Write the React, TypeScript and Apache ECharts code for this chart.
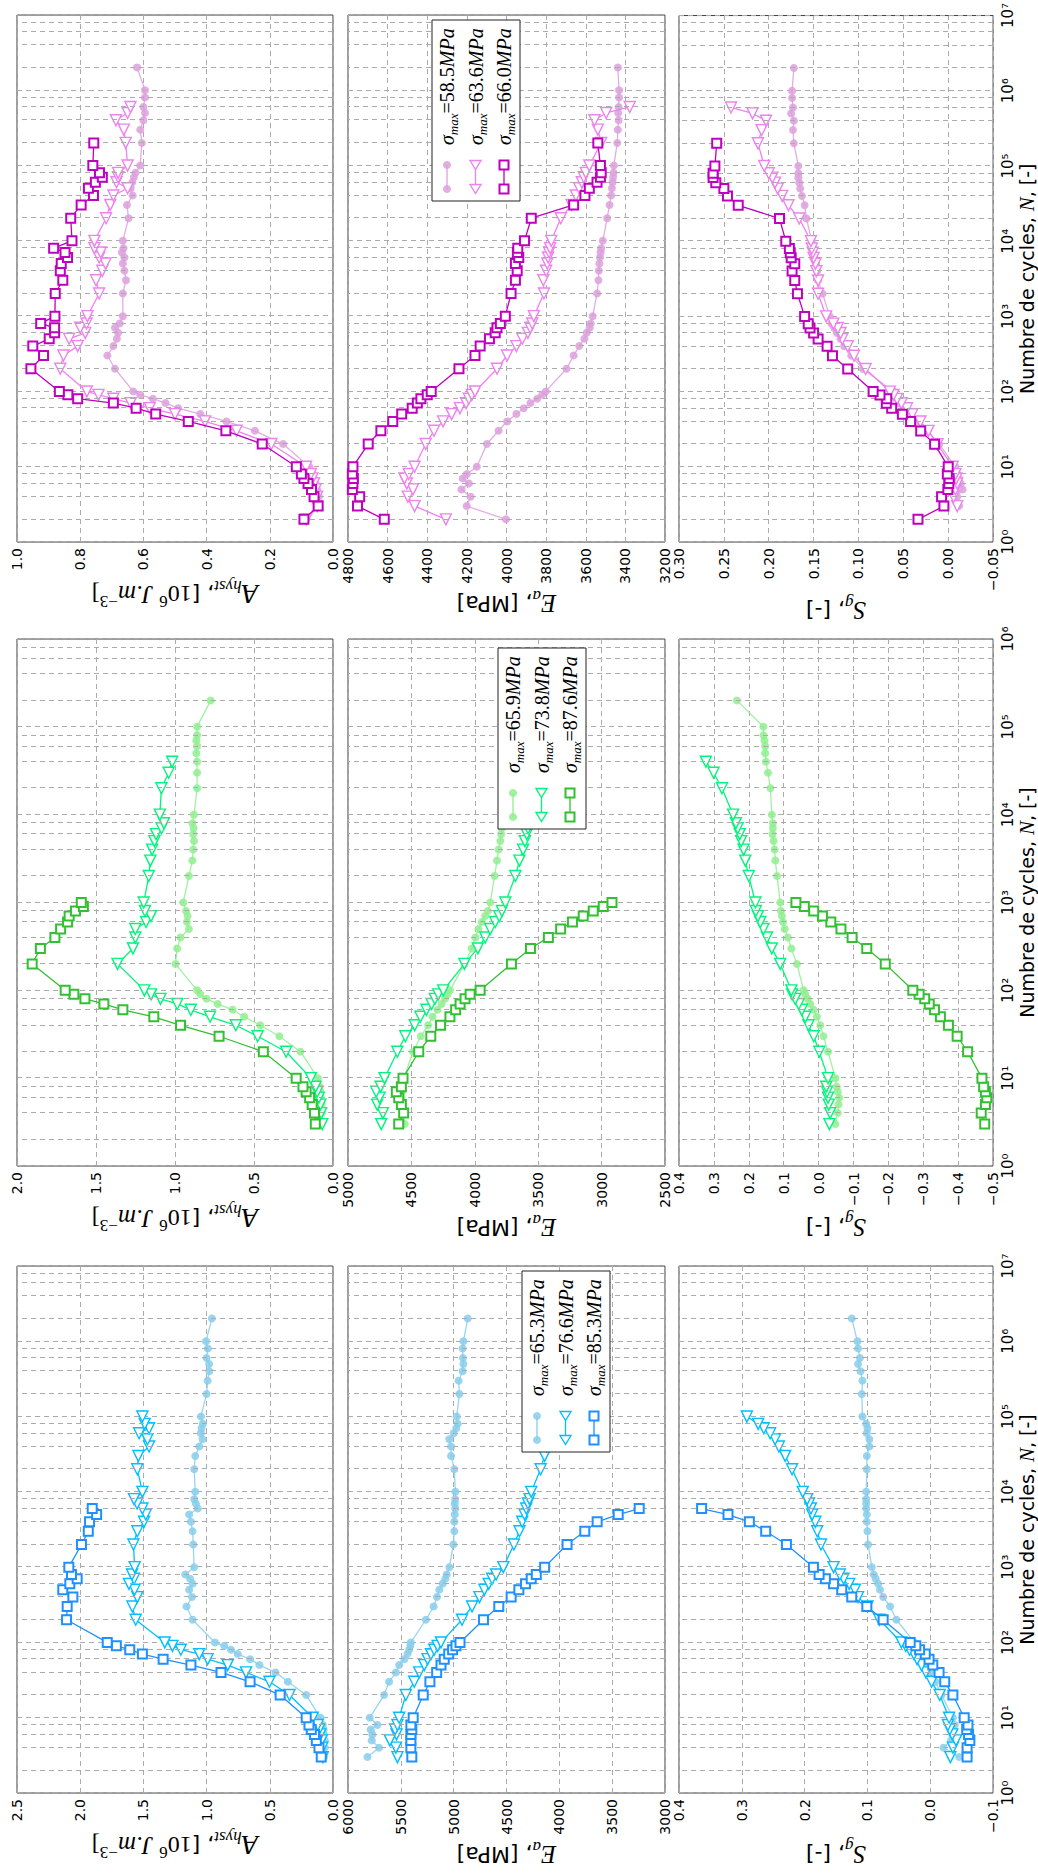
import React, { useEffect, useRef } from 'react';
import * as echarts from 'echarts';

// ---------- DATA (N = number of cycles; A = A_hyst [10^6 J/m^3]; E = E_a [MPa]; S = S_g [-]) ----------
// Magenta group
const SIG_M = ['58.5', '63.6', '66.0'];
const N_M1 = [2,3,4,5,6,7,8,10,20,30,40,50,60,70,80,90,100,200,300,400,500,600,700,800,1000,2000,3000,4000,5000,6000,7000,8000,10000,20000,30000,40000,50000,60000,70000,80000,100000,200000,300000,400000,500000,600000,800000,1000000,2000000];
const A_M1 = [0.085,0.045,0.045,0.05,0.055,0.06,0.065,0.075,0.158,0.247,0.337,0.42,0.49,0.53,0.57,0.61,0.632,0.69,0.714,0.695,0.684,0.68,0.69,0.675,0.665,0.665,0.655,0.66,0.665,0.66,0.668,0.663,0.665,0.647,0.652,0.634,0.64,0.635,0.63,0.625,0.61,0.605,0.61,0.6,0.595,0.6,0.595,0.595,0.62];
const E_M1 = [4003,4201,4181,4227,4190,4221,4200,4150,4099,4040,3997,3950,3913,3879,3845,3820,3802,3697,3661,3633,3607,3595,3580,3575,3565,3543,3536,3534,3531,3528,3525,3522,3514,3492,3480,3472,3468,3465,3462,3460,3458,3441,3438,3434,3436,3434,3432,3432,3438];
const S_M1 = [null,-0.012,-0.01,-0.016,-0.014,-0.012,-0.01,-0.008,0.01,0.023,0.034,0.042,0.05,0.054,0.057,0.059,0.061,0.095,0.108,0.116,0.12,0.124,0.127,0.13,0.132,0.14,0.145,0.146,0.147,0.149,0.15,0.151,0.152,0.158,0.16,0.163,0.165,0.166,0.167,0.167,0.167,0.172,0.173,0.172,0.175,0.173,0.174,0.174,0.172];

const N_M2 = [2,3,4,5,6,7,8,10,20,30,40,50,60,70,80,90,100,200,300,400,500,600,700,800,1000,2000,3000,4000,5000,6000,7000,8000,10000,20000,30000,40000,50000,60000,70000,80000,100000,200000,300000,400000,500000,600000];
const A_M2 = [0.085,0.05,0.05,0.055,0.06,0.065,0.07,0.085,0.195,0.305,0.405,0.5,0.58,0.64,0.695,0.742,0.779,0.863,0.853,0.808,0.835,0.784,0.8,0.78,0.777,0.74,0.75,0.73,0.72,0.74,0.735,0.755,0.755,0.718,0.705,0.695,0.65,0.685,0.68,0.68,0.65,0.656,0.662,0.687,0.65,0.641];
const E_M2 = [4306,4464,4498,4472,4503,4515,4493,4464,4408,4366,4320,4277,4235,4204,4190,4175,4159,4048,3997,3950,3920,3892,3880,3870,3862,3811,3814,3800,3794,3790,3785,3780,3774,3726,3672,3650,3633,3620,3610,3600,3582,3522,3539,3556,3497,3378];
const S_M2 = [null,-0.01,-0.006,-0.008,-0.01,-0.009,-0.008,-0.005,0.012,0.022,0.031,0.04,0.046,0.052,0.057,0.061,0.065,0.092,0.105,0.112,0.118,0.12,0.123,0.128,0.136,0.145,0.145,0.147,0.148,0.15,0.151,0.152,0.153,0.166,0.178,0.185,0.19,0.193,0.196,0.2,0.205,0.212,0.208,0.203,0.218,0.242];

const N_M3 = [2,3,4,5,6,7,8,10,20,30,40,50,60,70,80,90,100,200,300,400,500,600,700,800,1000,2000,3000,4000,5000,6000,7000,8000,10000,20000,30000,40000,50000,60000,70000,80000,100000,200000];
const A_M3 = [0.092,0.047,0.06,0.068,0.079,0.092,0.1,0.116,0.224,0.339,0.458,0.561,0.623,0.695,0.808,0.839,0.866,0.956,0.916,0.95,0.898,0.881,0.881,0.925,0.88,0.879,0.855,0.863,0.86,0.84,0.848,0.884,0.826,0.83,0.797,0.758,0.774,0.752,0.73,0.739,0.76,0.757];
const E_M3 = [4617,4752,4741,4778,4775,4773,4778,4775,4698,4634,4574,4529,4476,4450,4432,4400,4380,4240,4159,4133,4086,4057,4048,4031,4006,3977,3955,3946,3955,3938,3945,3943,3909,3875,3661,3604,3582,3543,3526,3522,3526,3539];
const S_M3 = [0.0337,0.0048,0.0074,0.0004,-0.0007,-0.001,0.001,0.0,0.0152,0.0307,0.0419,0.0511,0.063,0.069,0.0685,0.076,0.0837,0.112,0.129,0.135,0.145,0.15,0.154,0.156,0.16,0.168,0.171,0.174,0.171,0.175,0.176,0.177,0.181,0.188,0.234,0.246,0.25,0.259,0.262,0.262,0.26,0.258];

// Green group
const SIG_G = ['65.9', '73.8', '87.6'];
const N_G1 = [3,4,5,6,7,8,10,20,30,40,50,60,70,80,90,100,200,300,400,500,600,700,800,1000,2000,3000,4000,5000,6000,7000,8000,10000,20000,30000,40000,50000,60000,70000,80000,100000,200000];
const A_G1 = [0.075,0.07,0.072,0.075,0.08,0.085,0.095,0.206,0.34,0.46,0.562,0.636,0.73,0.8,0.84,0.86,0.997,0.986,0.965,0.912,0.925,0.92,0.93,0.948,0.912,0.89,0.885,0.88,0.885,0.882,0.89,0.88,0.86,0.86,0.86,0.865,0.86,0.865,0.86,0.86,0.774];
const E_G1 = [4553,4570,4575,4580,4575,4570,4560,4487,4426,4368,4333,4294,4262,4235,4214,4196,4080,4024,3995,3971,3944,3918,3897,3878,3844,3825,3812,3799,3792,3786,3780,3770,3750,3740,3730,3725,3720,3715,3712,3710,3650];
const S_G1 = [-0.048,-0.055,-0.057,-0.059,-0.055,-0.052,-0.048,-0.027,-0.014,-0.005,0.005,0.014,0.024,0.031,0.038,0.043,0.062,0.078,0.088,0.097,0.102,0.105,0.108,0.11,0.119,0.124,0.126,0.129,0.132,0.131,0.131,0.134,0.138,0.145,0.151,0.153,0.153,0.155,0.158,0.158,0.234];

const N_G2 = [3,4,5,6,7,8,10,20,30,40,50,60,70,80,90,100,200,300,400,500,600,700,800,1000,2000,3000,4000,5000,6000,7000,8000,10000,20000,30000,40000];
const A_G2 = [0.068,0.075,0.08,0.09,0.1,0.11,0.14,0.297,0.477,0.615,0.778,0.9,0.986,1.092,1.152,1.194,1.364,1.266,1.251,1.251,1.183,1.152,1.19,1.198,1.166,1.156,1.145,1.13,1.12,1.085,1.07,1.096,1.086,1.04,1.018];
const E_G2 = [4738,4725,4770,4751,4778,4743,4712,4611,4548,4474,4429,4381,4341,4315,4288,4249,4082,3976,3918,3878,3839,3807,3786,3759,3680,3648,3619,3605,3590,3580,3570,3555,3500,3460,3430];
const S_G2 = [-0.031,-0.033,-0.029,-0.027,-0.024,-0.022,-0.027,-0.002,0.014,0.029,0.038,0.048,0.057,0.067,0.076,0.078,0.11,0.134,0.148,0.158,0.167,0.174,0.18,0.181,0.2,0.21,0.215,0.222,0.226,0.232,0.237,0.245,0.277,0.301,0.323];

const N_G3 = [3,4,5,6,7,8,10,20,30,40,50,60,70,80,90,100,200,300,400,500,600,700,800,900,1000];
const A_G3 = [0.112,0.117,0.132,0.148,0.17,0.19,0.233,0.441,0.721,0.965,1.134,1.33,1.45,1.57,1.64,1.695,1.904,1.852,1.76,1.724,1.68,1.67,1.63,1.58,1.593];
const E_G3 = [4600,4561,4579,4600,4619,4579,4566,4442,4347,4270,4196,4151,4116,4077,4037,3958,3711,3561,3420,3323,3230,3145,3066,2987,2918];
const S_G3 = [-0.476,-0.466,-0.478,-0.482,-0.478,-0.473,-0.468,-0.427,-0.397,-0.372,-0.349,-0.332,-0.317,-0.304,-0.288,-0.27,-0.191,-0.138,-0.096,-0.064,-0.035,-0.011,0.014,0.041,0.065];

// Blue group
const SIG_B = ['65.3', '76.6', '85.3'];
const N_B1 = [3,4,5,6,7,8,10,20,30,40,50,60,70,80,90,100,200,300,400,500,600,700,800,1000,2000,3000,4000,5000,6000,7000,8000,10000,20000,30000,40000,50000,60000,70000,80000,100000,200000,300000,400000,500000,600000,800000,1000000,2000000];
const A_B1 = [0.07,0.065,0.065,0.07,0.075,0.08,0.1,0.212,0.357,0.455,0.582,0.656,0.754,0.807,0.86,0.934,1.111,1.159,1.116,1.138,1.111,1.13,1.169,1.098,1.106,1.111,1.124,1.138,1.07,1.085,1.098,1.09,1.098,1.09,1.058,1.032,1.045,1.04,1.03,1.045,1.0,0.992,0.979,0.98,1.0,0.99,1.005,0.958];
const E_B1 = [5816,5706,5775,5769,5785,5722,5794,5658,5611,5547,5516,5468,5437,5421,5410,5405,5263,5190,5158,5136,5104,5079,5066,5041,5003,4994,4994,4990,4984,4990,4985,4984,4994,5025,5025,5041,5000,4975,4962,4971,4946,4953,4915,4908,4912,4915,4908,4867];
const S_B1 = [-0.046,-0.021,-0.033,-0.035,-0.037,-0.039,-0.036,-0.018,-0.008,0.0,0.005,0.01,0.015,0.018,0.022,0.025,0.054,0.064,0.075,0.08,0.083,0.087,0.09,0.093,0.099,0.1,0.101,0.101,0.102,0.102,0.102,0.102,0.101,0.101,0.097,0.097,0.101,0.1,0.102,0.108,0.109,0.108,0.111,0.115,0.112,0.115,0.116,0.125];

const N_B2 = [3,4,5,6,7,8,10,20,30,40,50,60,70,80,90,100,200,300,400,500,600,700,800,1000,2000,3000,4000,5000,6000,7000,8000,10000,20000,30000,40000,50000,60000,70000,80000,100000];
const A_B2 = [0.08,0.085,0.09,0.1,0.11,0.12,0.16,0.344,0.503,0.688,0.833,0.992,1.058,1.204,1.27,1.331,1.561,1.587,1.548,1.57,1.614,1.574,1.59,1.569,1.579,1.548,1.495,1.481,1.508,1.55,1.574,1.508,1.548,1.54,1.455,1.468,1.534,1.455,1.49,1.508];
const E_B2 = [5532,5547,5604,5541,5554,5532,5516,5453,5373,5326,5278,5247,5215,5184,5152,5120,4921,4826,4756,4709,4668,4636,4598,4530,4430,4377,4351,4329,4313,4297,4282,4266,4177,4140,4120,4100,4090,4080,4070,4060];
const S_B2 = [-0.032,-0.036,-0.041,-0.035,-0.031,-0.028,-0.03,-0.015,-0.002,0.007,0.014,0.021,0.026,0.033,0.039,0.046,0.081,0.1,0.115,0.12,0.129,0.138,0.144,0.154,0.174,0.18,0.183,0.188,0.19,0.193,0.196,0.203,0.22,0.231,0.241,0.247,0.255,0.265,0.274,0.292];

const N_B3 = [3,4,5,6,7,8,10,20,30,40,50,60,70,80,90,100,200,300,400,500,600,700,800,1000,2000,3000,4000,5000,6000];
const A_B3 = [0.093,0.111,0.132,0.146,0.172,0.19,0.212,0.418,0.656,0.886,1.124,1.344,1.508,1.608,1.714,1.786,2.108,2.103,2.058,2.138,2.082,2.024,2.069,2.09,1.99,1.936,1.926,1.87,1.905];
const E_B3 = [5396,5405,5405,5405,5396,5405,5383,5288,5225,5161,5120,5089,5047,5010,4978,4940,4718,4573,4456,4383,4320,4266,4218,4139,3927,3759,3642,3443,3244];
const S_B3 = [-0.0586,-0.0586,-0.063,-0.061,-0.058,-0.06,-0.054,-0.036,-0.023,-0.014,-0.004,0.002,0.008,0.017,0.023,0.032,0.075,0.101,0.125,0.141,0.154,0.167,0.177,0.186,0.229,0.262,0.288,0.322,0.364];

// Minor log grid multipliers and decades
const MINOR_SUBS = [2, 4, 6, 8];
const DECADES = [1, 10, 100, 1000, 10000, 100000, 1000000];
const SUPS = ['⁰', '¹', '²', '³', '⁴', '⁵', '⁶', '⁷', '⁸', '⁹'];

// ---------- LAYOUT (un-rotated figure, rotated by CSS afterwards) ----------
const W = 1874;
const H = 1038;
const COL_LEFT = [81, 708, 1332];
const COL_W = 527;
const ROW_TOP = [17, 348, 679];
const ROW_H = [316, 317, 316];
const NAME_GAP = [36, 44, 45];
const LEGEND_POS = [[422, 522], [1045, 498], [1673, 432]];

const GRID_COLOR = '#ababab';
const SERIF = 'Liberation Serif';
const SANS = 'DejaVu Sans';

const GROUPS = [
  {
    xMax: 1e7,
    colors: ['#87CEEB', '#00BFFF', '#1E90FF'],
    sig: SIG_B,
    sets: [
      { N: N_B1, A: A_B1, E: E_B1, S: S_B1 },
      { N: N_B2, A: A_B2, E: E_B2, S: S_B2 },
      { N: N_B3, A: A_B3, E: E_B3, S: S_B3 },
    ],
    y: [
      { min: 0, max: 2.5, interval: 0.5, dec: 1 },
      { min: 3000, max: 6000, interval: 500, dec: 0 },
      { min: -0.1, max: 0.4, interval: 0.1, dec: 1 },
    ],
  },
  {
    xMax: 1e6,
    colors: ['#90EE90', '#00F57A', '#32C032'],
    sig: SIG_G,
    sets: [
      { N: N_G1, A: A_G1, E: E_G1, S: S_G1 },
      { N: N_G2, A: A_G2, E: E_G2, S: S_G2 },
      { N: N_G3, A: A_G3, E: E_G3, S: S_G3 },
    ],
    y: [
      { min: 0, max: 2.0, interval: 0.5, dec: 1 },
      { min: 2500, max: 5000, interval: 500, dec: 0 },
      { min: -0.5, max: 0.4, interval: 0.1, dec: 1 },
    ],
  },
  {
    xMax: 1e7,
    colors: ['#DDA0DD', '#EE82EE', '#BF00BF'],
    sig: SIG_M,
    sets: [
      { N: N_M1, A: A_M1, E: E_M1, S: S_M1 },
      { N: N_M2, A: A_M2, E: E_M2, S: S_M2 },
      { N: N_M3, A: A_M3, E: E_M3, S: S_M3 },
    ],
    y: [
      { min: 0, max: 1.0, interval: 0.2, dec: 1 },
      { min: 3200, max: 4800, interval: 200, dec: 0 },
      { min: -0.05, max: 0.3, interval: 0.05, dec: 2 },
    ],
  },
];

const Y_NAMES = [
  '{cal|A}{sub|hyst}{n|, [}{srf|10}{sup|6}{srf| }{it|J.m}{sup|−3}{srf|]}',
  '{it|E}{sub|a}{n|, [MPa]}',
  '{it|S}{sub|g}{n|, [-]}',
];

const NAME_RICH = {
  n: { fontFamily: SANS, fontSize: 22, lineHeight: 32, verticalAlign: 'middle', color: '#000' },
  cal: { fontFamily: SERIF, fontStyle: 'italic', fontSize: 27, lineHeight: 32, verticalAlign: 'middle', color: '#000' },
  it: { fontFamily: SERIF, fontStyle: 'italic', fontSize: 25, lineHeight: 32, verticalAlign: 'middle', color: '#000' },
  srf: { fontFamily: SERIF, fontSize: 24, lineHeight: 32, verticalAlign: 'middle', color: '#000' },
  sub: { fontFamily: SERIF, fontStyle: 'italic', fontSize: 17, lineHeight: 16, verticalAlign: 'bottom', color: '#000' },
  sup: { fontFamily: SERIF, fontSize: 17, lineHeight: 16, verticalAlign: 'top', color: '#000' },
};

const XNAME_RICH = {
  n: { fontFamily: SANS, fontSize: 19, lineHeight: 22, color: '#000' },
  it: { fontFamily: SERIF, fontStyle: 'italic', fontSize: 21, lineHeight: 22, color: '#000' },
};

const LEG_RICH = {
  it: { fontFamily: SERIF, fontStyle: 'italic', fontSize: 20, lineHeight: 26, verticalAlign: 'middle', fill: '#000', color: '#000' },
  rm: { fontFamily: SERIF, fontSize: 20, lineHeight: 26, verticalAlign: 'middle', fill: '#000', color: '#000' },
  sub: { fontFamily: SERIF, fontStyle: 'italic', fontSize: 13, lineHeight: 13, verticalAlign: 'bottom', fill: '#000', color: '#000' },
};

function fmt(v: number, dec: number): string {
  if (Math.abs(v) < 1e-9) v = 0;
  const s = Math.abs(v).toFixed(dec);
  return v < 0 ? '−' + s : s;
}

function logLabel(v: number): string {
  const e = Math.round(Math.log10(v));
  return '10' + String(e).split('').map((d) => SUPS[Number(d)]).join('');
}

const MARKERS = [
  { symbol: 'circle', size: 8, rotate: 0, hollow: false, bw: 0 },
  { symbol: 'triangle', size: 11, rotate: 90, hollow: true, bw: 1.4 },
  { symbol: 'rect', size: 9, rotate: 0, hollow: true, bw: 2 },
];

function buildOption() {
  const grids: any[] = [];
  const xAxes: any[] = [];
  const yAxes: any[] = [];
  const series: any[] = [];
  const graphics: any[] = [];
  const dash = [5, 4];

  GROUPS.forEach((g, gi) => {
    const minor: number[] = [];
    DECADES.forEach((d) => MINOR_SUBS.forEach((s) => { if (s * d < g.xMax) minor.push(s * d); }));
    for (let r = 0; r < 3; r++) {
      const idx = gi * 3 + r;
      grids.push({
        left: COL_LEFT[gi], top: ROW_TOP[r], width: COL_W, height: ROW_H[r],
        show: true, borderColor: '#3c3c3c', borderWidth: 1, backgroundColor: 'transparent',
      });
      xAxes.push({
        type: 'log', logBase: 10, min: 1, max: g.xMax, gridIndex: idx, position: 'bottom',
        axisLine: { show: false, onZero: false }, axisTick: { show: false },
        axisLabel: {
          show: r === 2, formatter: logLabel, fontSize: 15, fontFamily: SANS, color: '#000', margin: 7,
          showMinLabel: true, showMaxLabel: true,
        },
        splitLine: { show: true, lineStyle: { color: GRID_COLOR, type: dash, width: 1 } },
        name: r === 2 ? '{n|Numbre de cycles, }{it|N}{n|, [-]}' : '',
        nameLocation: 'middle', nameGap: 21,
        nameTextStyle: { rich: XNAME_RICH },
      });
      const yc = g.y[r];
      yAxes.push({
        type: 'value', gridIndex: idx, min: yc.min, max: yc.max, interval: yc.interval, position: 'left',
        axisLine: { show: false, onZero: false }, axisTick: { show: false },
        axisLabel: {
          formatter: (v: number) => fmt(v, yc.dec), fontSize: 14, fontFamily: SANS, color: '#000', margin: 6,
          showMinLabel: true, showMaxLabel: true,
        },
        splitLine: { show: true, lineStyle: { color: GRID_COLOR, type: dash, width: 1 } },
        name: Y_NAMES[r], nameLocation: 'middle', nameGap: NAME_GAP[r],
        nameTextStyle: { rich: NAME_RICH },
      });
      // minor log grid lines
      series.push({
        type: 'line', xAxisIndex: idx, yAxisIndex: idx, data: [], silent: true, z: 1,
        markLine: {
          silent: true, symbol: ['none', 'none'], label: { show: false }, animation: false,
          lineStyle: { color: GRID_COLOR, type: dash, width: 1 },
          emphasis: { disabled: true },
          data: minor.map((v) => ({ xAxis: v })),
        },
      });
      const key = r === 0 ? 'A' : r === 1 ? 'E' : 'S';
      g.sets.forEach((set: any, k: number) => {
        const vals = set[key];
        const data = set.N.map((n: number, i: number) => (vals[i] == null ? null : [n, vals[i]])).filter((d: any) => d);
        const m = MARKERS[k];
        const c = g.colors[k];
        series.push({
          type: 'line', xAxisIndex: idx, yAxisIndex: idx, data,
          symbol: m.symbol, symbolSize: m.size, symbolRotate: m.rotate, showSymbol: true, showAllSymbol: true,
          lineStyle: { color: c, width: 1.3, opacity: k === 0 ? 0.85 : 1 },
          itemStyle: m.hollow
            ? { color: '#ffffff', borderColor: c, borderWidth: m.bw }
            : { color: c, opacity: 0.85 },
          emphasis: { disabled: true }, silent: true, z: 3 + k,
        });
      });
    }

    // legend in the E_a panel
    const [lx, ly] = LEGEND_POS[gi];
    graphics.push({
      type: 'rect', z: 100,
      shape: { x: lx, y: ly, width: 181, height: 88 },
      style: { fill: '#ffffff', stroke: '#222', lineWidth: 1 },
    });
    for (let k = 0; k < 3; k++) {
      const yy = ly + 15 + 28.5 * k;
      const c = g.colors[k];
      const x1 = lx + 12;
      const x2 = lx + 36;
      graphics.push({ type: 'line', z: 101, shape: { x1, y1: yy, x2, y2: yy }, style: { stroke: c, lineWidth: 1.3 } });
      [x1, x2].forEach((cx) => {
        if (k === 0) {
          graphics.push({ type: 'circle', z: 102, shape: { cx, cy: yy, r: 4 }, style: { fill: c, opacity: 0.85 } });
        } else if (k === 1) {
          graphics.push({
            type: 'polygon', z: 102,
            shape: { points: [[cx - 4.5, yy], [cx + 4.5, yy - 5.5], [cx + 4.5, yy + 5.5]] },
            style: { fill: '#ffffff', stroke: c, lineWidth: 1.4 },
          });
        } else {
          graphics.push({
            type: 'rect', z: 102, shape: { x: cx - 4.5, y: yy - 4.5, width: 9, height: 9 },
            style: { fill: '#ffffff', stroke: c, lineWidth: 2 },
          });
        }
      });
      graphics.push({
        type: 'text', z: 102,
        style: {
          x: lx + 56, y: yy, text: '{it|σ}{sub|max}{rm|=' + g.sig[k] + '}{it|MPa}',
          rich: LEG_RICH, align: 'left', verticalAlign: 'middle', fill: '#000',
        },
      });
    }
  });

  return {
    animation: false,
    backgroundColor: '#ffffff',
    textStyle: { fontFamily: SANS },
    grid: grids,
    xAxis: xAxes,
    yAxis: yAxes,
    series,
    graphic: { elements: graphics },
  };
}

export default function App() {
  const ref = useRef<HTMLDivElement>(null);
  useEffect(() => {
    if (!ref.current) return;
    const chart = echarts.init(ref.current, null, { renderer: 'svg', width: W, height: H });
    chart.setOption(buildOption() as any);
    return () => chart.dispose();
  }, []);
  return (
    <div style={{ position: 'absolute', left: 0, top: 0, width: H, height: W, overflow: 'hidden', background: '#fff' }}>
      <div
        ref={ref}
        style={{
          position: 'absolute', left: 0, top: 0, width: W, height: H,
          transformOrigin: '0 0', transform: `translateY(${W}px) rotate(-90deg)`,
        }}
      />
    </div>
  );
}
